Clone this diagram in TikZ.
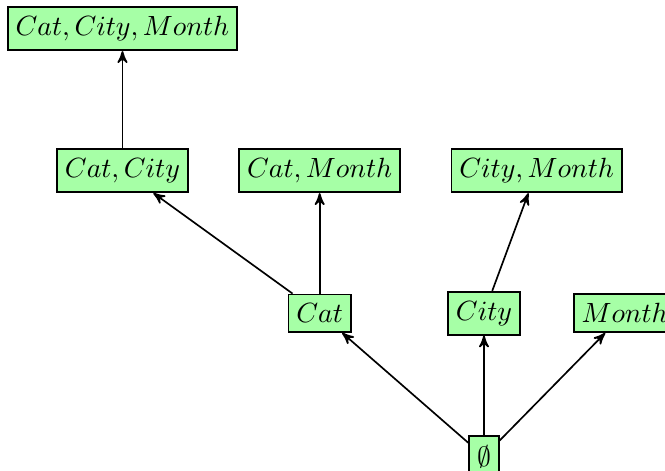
\documentclass[tikz,border=0pt]{standalone}
\usetikzlibrary{arrows,positioning}
\tikzset{
    %Define standard arrow tip
    >=stealth',
    % Define style for lattice boxes
    zelle/.style={
           rectangle,
           draw=black, semithick,
           fill=green!35,
           inner xsep=2.8pt,
           inner ysep=3.33pt},
    % Define arrow style
    pil/.style={
           ->,
           >=stealth',
           semithick}
}
\begin{document}
\begin{tikzpicture}[node distance=1.28cm and 0.63cm]
  \useasboundingbox (-6.118,-0.183) rectangle (2.288,5.770);
  \node[zelle] (leer) at (0,0) {$\emptyset$};
  \node[zelle] (city) [above=1.26cm of leer] {$City$};
  \node[zelle] (cat) [left=1.21cm of city] {$Cat$};
  \node[zelle] (month) [right=0.66cm of city] {$Month$};
  \node[zelle] (catmonth) [above=1.27cm of cat] {$Cat,Month$};
  \node[zelle] (catcity) [left=of catmonth] {$Cat,City$};
  \node[zelle] (citymonth) [right=of catmonth] {$City,Month$};
  \node[zelle] (catcitymonth) [above=1.23cm of catcity] {$Cat,City,Month$};
  \path[pil]
    (leer) edge (cat)
    (leer) edge (city)
    (leer) edge (month)
    (cat) edge (catcity)
    (cat) edge (catmonth)
    (city) edge (citymonth)
    (catcity) edge (catcitymonth);
\end{tikzpicture}
\end{document}
